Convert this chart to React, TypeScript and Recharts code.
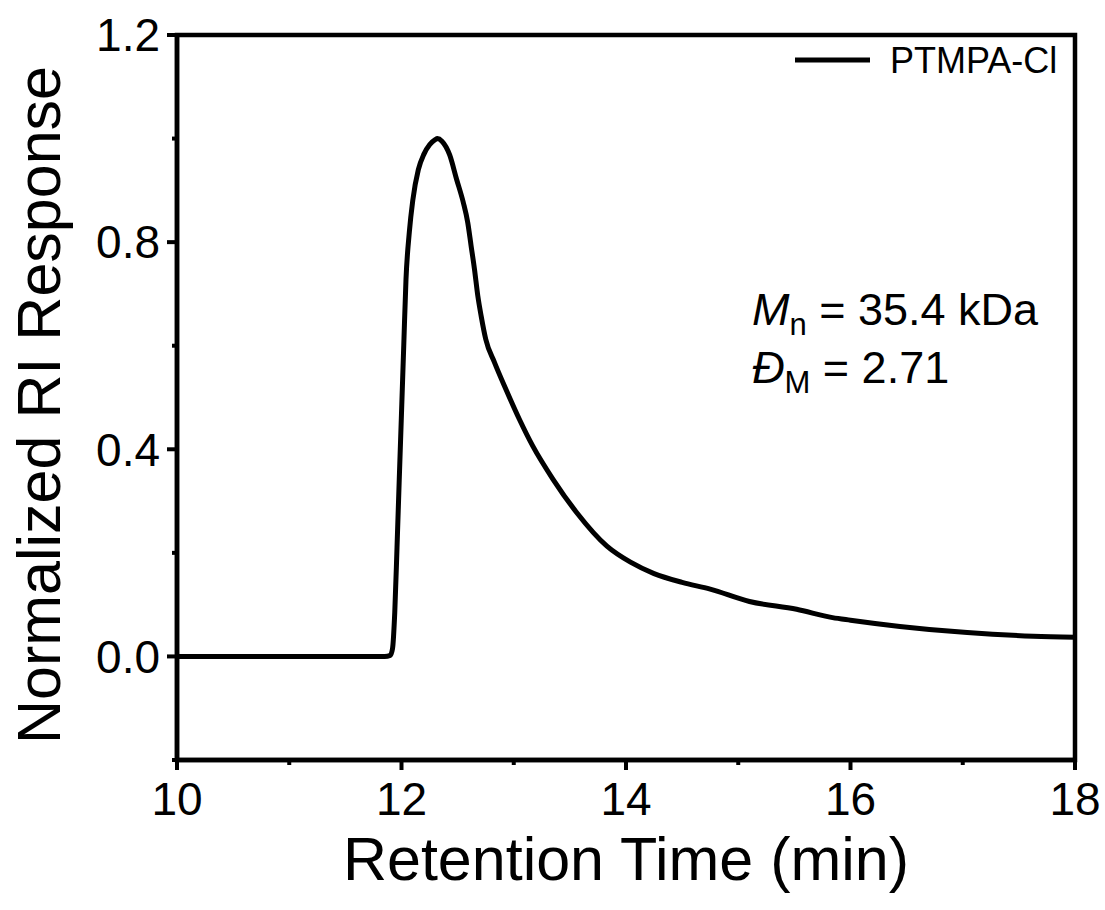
import React from "react";
import {
  LineChart,
  Line,
  XAxis,
  YAxis,
  ReferenceArea,
} from "recharts";

// retention time (min) and normalized RI response
const retentionTimes = [
  10, 11, 11.85, 11.9, 11.92, 11.94, 11.96, 11.98, 12.0, 12.02, 12.04, 12.07,
  12.1, 12.15, 12.2, 12.25, 12.3, 12.32, 12.36, 12.43, 12.49, 12.55, 12.59,
  12.62, 12.65, 12.68, 12.71, 12.75, 12.83, 12.93, 13.05, 13.17, 13.35, 13.56,
  13.83, 14.04, 14.25, 14.5, 14.75, 15.1, 15.52, 15.84, 16.0, 16.44, 17.04,
  17.63, 18.0,
];
const riResponse = [
  0, 0, 0, 0.002, 0.015, 0.085, 0.21, 0.342, 0.47, 0.6, 0.728, 0.82,
  0.88, 0.94, 0.97, 0.988, 0.998, 1.0, 0.995, 0.968, 0.922, 0.877, 0.838,
  0.793, 0.748, 0.696, 0.657, 0.613, 0.567, 0.516, 0.458, 0.406, 0.342, 0.278,
  0.213, 0.182, 0.16, 0.143, 0.13, 0.106, 0.091, 0.075, 0.07, 0.058, 0.046,
  0.039, 0.037,
];
const xTicks = [10, 11, 12, 13, 14, 15, 16, 17, 18];
const yTicks = [-0.2, 0, 0.2, 0.4, 0.6, 0.8, 1.0, 1.2];
const seriesName = "PTMPA-Cl";

const data = retentionTimes.map((t, i) => ({ t, v: riResponse[i] }));

const FONT = "'Liberation Sans', Arial, Helvetica, sans-serif";
const TICK_SIZE = 10;
const X_MARGIN = 12;
const Y_MARGIN = 7;

const XTick = (props: any) => {
  const { x, y, payload } = props;
  const v = payload.value as number;
  const major = Math.round(v) % 2 === 0;
  const axisY = y - TICK_SIZE - X_MARGIN;
  return (
    <g>
      <line x1={x} x2={x} y1={axisY} y2={axisY + (major ? 10 : 5)} stroke="#000" strokeWidth={4} />
      {major && (
        <text x={x} y={y} dy="0.71em" textAnchor="middle" fontFamily={FONT} fontSize={46} fill="#000">
          {v}
        </text>
      )}
    </g>
  );
};

const YTick = (props: any) => {
  const { x, y, payload } = props;
  const v = payload.value as number;
  const major = Math.round(v * 10) % 4 === 0;
  const axisX = x + TICK_SIZE + Y_MARGIN;
  return (
    <g>
      <line x1={axisX} x2={axisX - (major ? 10 : 5)} y1={y} y2={y} stroke="#000" strokeWidth={4} />
      {major && (
        <text x={x} y={y} dy="0.355em" textAnchor="end" fontFamily={FONT} fontSize={46} fill="#000">
          {v.toFixed(1)}
        </text>
      )}
    </g>
  );
};

export default function App() {
  return (
    <div style={{ position: "absolute", left: 0, top: 0, width: 1105, height: 910, background: "#fff" }}>
      <LineChart
        width={1105}
        height={910}
        data={data}
        margin={{ top: 35, right: 30, bottom: 0, left: 0 }}
      >
        <XAxis
          dataKey="t"
          type="number"
          domain={[10, 18]}
          ticks={xTicks}
          interval={0}
          height={150}
          tickSize={TICK_SIZE}
          tickMargin={X_MARGIN}
          tickLine={false}
          tick={<XTick />}
          axisLine={{ stroke: "#000", strokeWidth: 4.5 }}
          label={{
            value: "Retention Time (min)",
            content: ({ viewBox }: any) => (
              <text
                x={viewBox.x + viewBox.width / 2}
                y={880}
                textAnchor="middle"
                fontFamily={FONT}
                fontSize={61}
                fill="#000"
              >
                Retention Time (min)
              </text>
            ),
          }}
        />
        <YAxis
          type="number"
          domain={[-0.2, 1.2]}
          ticks={yTicks}
          interval={0}
          width={177}
          tickSize={TICK_SIZE}
          tickMargin={Y_MARGIN}
          tickLine={false}
          tick={<YTick />}
          axisLine={{ stroke: "#000", strokeWidth: 4.5 }}
          label={{
            value: "Normalized RI Response",
            content: () => (
              <text
                x={60}
                y={405}
                transform="rotate(-90, 60, 405)"
                textAnchor="middle"
                fontFamily={FONT}
                fontSize={61}
                fill="#000"
              >
                Normalized RI Response
              </text>
            ),
          }}
        />
        <ReferenceArea
          x1={10}
          x2={18}
          y1={-0.2}
          y2={1.2}
          fill="none"
          stroke="#000"
          strokeWidth={4.5}
          ifOverflow="visible"
        />
        <Line
          type="monotone"
          dataKey="v"
          name={seriesName}
          stroke="#000"
          strokeWidth={5}
          strokeLinejoin="round"
          dot={false}
          activeDot={false}
          isAnimationActive={false}
        />
        <g>
          <line x1={795} x2={870} y1={60} y2={60} stroke="#000" strokeWidth={5} />
          <text x={890} y={60} dy="0.355em" fontFamily={FONT} fontSize={36} fill="#000">
            {seriesName}
          </text>
        </g>
        <text x={752} y={325} fontFamily={FONT} fontSize={45} fill="#000">
          <tspan fontStyle="italic">M</tspan>
          <tspan fontSize={31} dy={10}>n</tspan>
          <tspan dy={-10}> = 35.4 kDa</tspan>
        </text>
        <text x={752} y={383} fontFamily={FONT} fontSize={45} fill="#000">
          <tspan fontStyle="italic">Đ</tspan>
          <tspan fontSize={31} dy={10}>M</tspan>
          <tspan dy={-10}> = 2.71</tspan>
        </text>
      </LineChart>
    </div>
  );
}
